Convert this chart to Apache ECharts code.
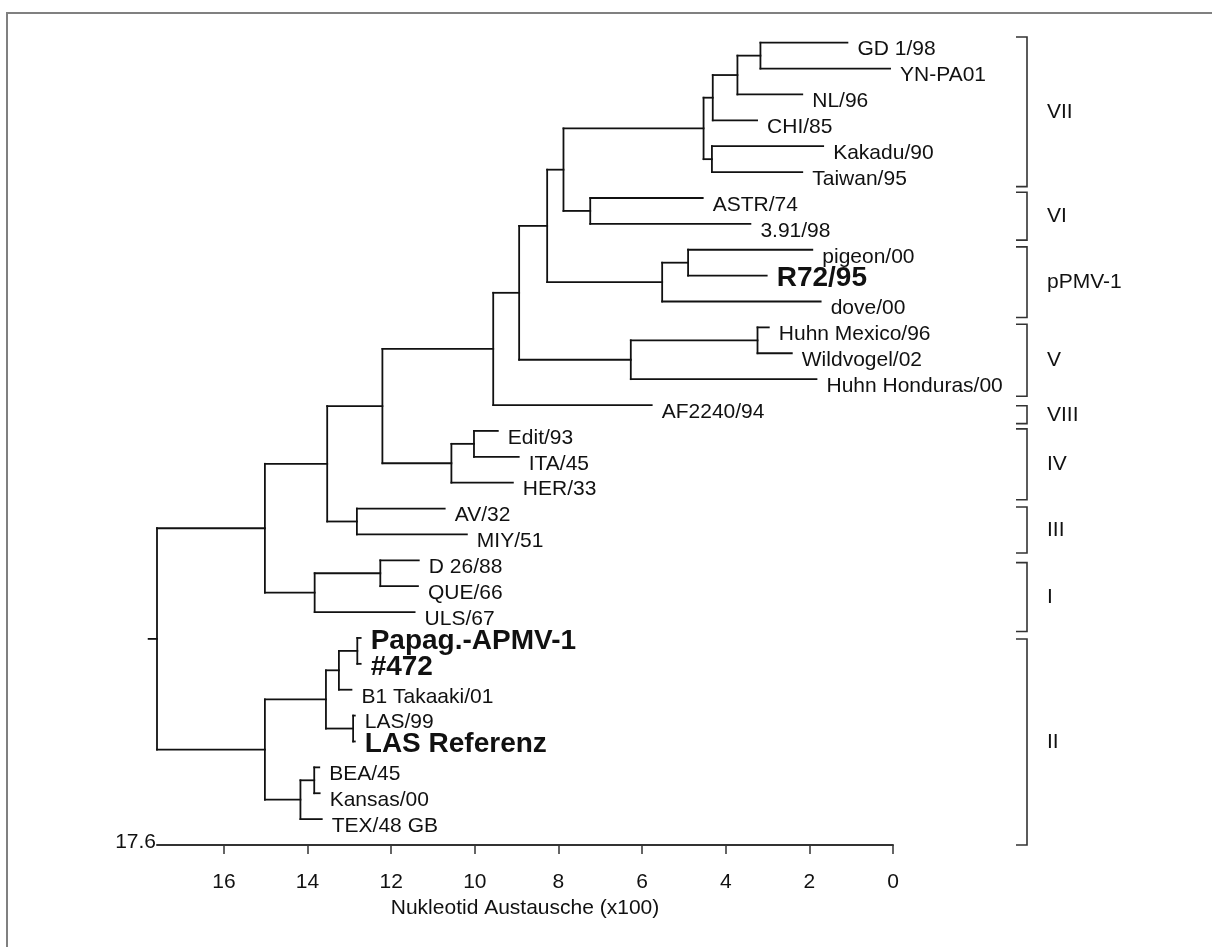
<!DOCTYPE html>
<html lang="de">
<head>
    <meta charset="UTF-8"/>
    <title>Stammbaum APMV-1</title>
    <script src="https://cdn.jsdelivr.net/npm/echarts@6/dist/echarts.min.js"></script>
    <style>
        html, body {margin: 0; padding: 0; background: #fff;}
        #treeChart {width: 1212px; height: 947px;}
    </style>
</head>
<body>
<div id="treeChart"></div>
<script type="text/javascript">
    // Blätter von oben nach unten, Spitze in Nukleotid-Austauschen (x100)
    var leafNames = ['GD 1/98', 'YN-PA01', 'NL/96', 'CHI/85', 'Kakadu/90', 'Taiwan/95',
        'ASTR/74', '3.91/98', 'pigeon/00', 'R72/95', 'dove/00',
        'Huhn Mexico/96', 'Wildvogel/02', 'Huhn Honduras/00', 'AF2240/94',
        'Edit/93', 'ITA/45', 'HER/33', 'AV/32', 'MIY/51', 'D 26/88', 'QUE/66', 'ULS/67',
        'Papag.-APMV-1', '#472', 'B1 Takaaki/01', 'LAS/99', 'LAS Referenz',
        'BEA/45', 'Kansas/00', 'TEX/48 GB'];
    var leafTips = [1.09, 0.07, 2.17, 3.25, 1.67, 2.17,
        4.55, 3.41, 1.93, 3.02, 1.73,
        2.97, 2.42, 1.83, 5.77,
        9.45, 8.95, 9.09, 10.72, 10.19, 11.34, 11.36, 11.44,
        12.73, 12.73, 12.95, 12.87, 12.87,
        13.72, 13.71, 13.66];
    var boldLeaves = ['R72/95', 'Papag.-APMV-1', '#472', 'LAS Referenz'];

    // innere Knoten (Kinder vor Eltern), Tiefe und Kinder
    var nodeNames = ['gdyn', 'nl', 'chi', 'kt', 'vii', 'vi', 'e', 'h', 'g', 'f', 'k', 'j', 'i', 'd',
        'ei', 'eih', 'c', 'am', 'b', 't', 's', 'a', 'l', 'm', 'o', 'n', 'q', 'r', 'p', 'root'];
    var nodeDepths = [3.17, 3.72, 4.31, 4.33, 4.53, 7.24, 7.88, 4.90, 5.52, 8.27, 3.24, 6.27, 8.94, 9.56,
        10.02, 10.56, 12.21, 12.82, 13.53, 12.26, 13.83, 15.02, 12.81, 13.25, 12.91, 13.56, 13.84, 14.17, 15.02, 17.6];
    var nodeKids = [
        ['GD 1/98', 'YN-PA01'], ['gdyn', 'NL/96'], ['nl', 'CHI/85'], ['Kakadu/90', 'Taiwan/95'], ['chi', 'kt'],
        ['ASTR/74', '3.91/98'], ['vii', 'vi'], ['pigeon/00', 'R72/95'], ['h', 'dove/00'], ['e', 'g'],
        ['Huhn Mexico/96', 'Wildvogel/02'], ['k', 'Huhn Honduras/00'], ['f', 'j'], ['i', 'AF2240/94'],
        ['Edit/93', 'ITA/45'], ['ei', 'HER/33'], ['d', 'eih'], ['AV/32', 'MIY/51'], ['c', 'am'],
        ['D 26/88', 'QUE/66'], ['t', 'ULS/67'], ['b', 's'],
        ['Papag.-APMV-1', '#472'], ['l', 'B1 Takaaki/01'], ['LAS/99', 'LAS Referenz'], ['m', 'o'],
        ['BEA/45', 'Kansas/00'], ['q', 'TEX/48 GB'], ['n', 'r'], ['a', 'p']];
    var rootStem = 0.2;

    // Genotyp-Klammern rechts (in Zeilen der Blätter)
    var cladeNames = ['VII', 'VI', 'pPMV-1', 'V', 'VIII', 'IV', 'III', 'I', 'II'];
    var cladeFrom = [-0.22, 5.78, 7.89, 10.88, 14.03, 14.92, 17.94, 20.09, 23.04];
    var cladeTo = [5.56, 7.63, 10.62, 13.66, 14.72, 17.66, 19.72, 22.75, 31.0];

    var tickValues = [0, 2, 4, 6, 8, 10, 12, 14, 16];
    var axisMax = 17.6;
    var rowCount = 31;

    var FONT = '"Liberation Sans", Arial, Helvetica, sans-serif';
    var INK = '#111';

    // Äste aus der Topologie aufbauen
    var pos = {};
    leafNames.forEach(function (n, i) { pos[n] = [leafTips[i], i]; });
    var segments = [];
    nodeNames.forEach(function (n, k) {
        var kids = nodeKids[k];
        var ys = kids.map(function (c) { return pos[c][1]; });
        var y0 = Math.min.apply(null, ys), y1 = Math.max.apply(null, ys);
        var d = nodeDepths[k];
        segments.push([d, y0, d, y1]);
        kids.forEach(function (c) {
            segments.push([d, pos[c][1], pos[c][0], pos[c][1]]);
        });
        pos[n] = [d, (y0 + y1) / 2];
    });
    var rootPos = pos['root'];
    segments.push([rootPos[0], rootPos[1], rootPos[0] + rootStem, rootPos[1]]);

    var cladeData = cladeNames.map(function (n, i) { return [cladeFrom[i], cladeTo[i]]; });

    var leafData = leafNames.map(function (n, i) {
        var bold = boldLeaves.indexOf(n) >= 0;
        return {
            name: n,
            value: [leafTips[i], i],
            label: {
                color: INK,
                fontSize: bold ? 28 : 21,
                fontWeight: bold ? 'bold' : 'normal',
                offset: [0, bold ? 3 : 7]
            }
        };
    });

    var myChart = echarts.init(document.getElementById('treeChart'));
    var option = {
        animation: false,
        backgroundColor: '#fff',
        textStyle: {fontFamily: FONT},
        graphic: [{
            type: 'rect',
            silent: true,
            z: -10,
            shape: {x: 7, y: 13, width: 1300, height: 1100},
            style: {stroke: '#808080', fill: 'none', lineWidth: 2}
        }],
        grid: {left: 157, right: 319, top: 42.7, bottom: 102},
        xAxis: {
            type: 'value',
            position: 'bottom',
            min: 0,
            max: axisMax,
            inverse: true,
            name: 'Nukleotid Austausche (x100)',
            nameLocation: 'middle',
            nameGap: 52,
            nameTextStyle: {fontSize: 21, color: INK, fontFamily: FONT},
            axisLine: {onZero: false, lineStyle: {color: '#333', width: 2}},
            axisTick: {customValues: tickValues, length: 9, lineStyle: {color: '#333', width: 1.5}},
            axisLabel: {customValues: tickValues, fontSize: 21, color: INK, margin: 27, fontFamily: FONT},
            splitLine: {show: false}
        },
        yAxis: {
            type: 'value',
            min: 0,
            max: rowCount,
            inverse: true,
            show: false
        },
        series: [
            {
                type: 'custom',
                name: 'Aeste',
                silent: true,
                dimensions: ['x1', 'y1', 'x2', 'y2'],
                encode: {x: [0, 2], y: [1, 3]},
                data: segments,
                renderItem: function (params, api) {
                    var a = api.coord([api.value(0), api.value(1)]);
                    var b = api.coord([api.value(2), api.value(3)]);
                    return {
                        type: 'line',
                        shape: {x1: a[0], y1: a[1], x2: b[0], y2: b[1]},
                        style: {stroke: INK, lineWidth: 1.8, lineCap: 'square'}
                    };
                }
            },
            {
                type: 'scatter',
                name: 'Isolate',
                silent: true,
                symbolSize: 0,
                itemStyle: {opacity: 1},
                data: leafData,
                label: {
                    show: true,
                    position: 'right',
                    distance: 10,
                    formatter: '{b}',
                    color: INK,
                    opacity: 1,
                    fontFamily: FONT
                }
            },
            {
                type: 'custom',
                name: 'Genotypen',
                silent: true,
                dimensions: ['from', 'to'],
                encode: {y: [0, 1]},
                data: cladeData,
                renderItem: function (params, api) {
                    var top = api.coord([0, api.value(0)]);
                    var bot = api.coord([0, api.value(1)]);
                    var xb = top[0] + 134;
                    return {
                        type: 'group',
                        children: [
                            {
                                type: 'polyline',
                                shape: {points: [[xb - 11, top[1]], [xb, top[1]], [xb, bot[1]], [xb - 11, bot[1]]]},
                                style: {stroke: '#333', lineWidth: 1.6, fill: null}
                            },
                            {
                                type: 'text',
                                x: xb + 20,
                                y: (top[1] + bot[1]) / 2,
                                style: {
                                    text: cladeNames[params.dataIndex],
                                    fill: INK,
                                    fontSize: 21,
                                    fontFamily: FONT,
                                    align: 'left',
                                    verticalAlign: 'middle'
                                }
                            }
                        ]
                    };
                }
            },
            {
                type: 'custom',
                name: 'Achsenende',
                silent: true,
                data: [[axisMax, rowCount]],
                renderItem: function (params, api) {
                    var p = api.coord([api.value(0), api.value(1)]);
                    return {
                        type: 'text',
                        x: p[0] - 1,
                        y: p[1] - 3,
                        style: {
                            text: String(axisMax),
                            fill: INK,
                            fontSize: 21,
                            fontFamily: FONT,
                            align: 'right',
                            verticalAlign: 'middle'
                        }
                    };
                }
            }
        ]
    };
    myChart.setOption(option);
</script>
</body>
</html>
